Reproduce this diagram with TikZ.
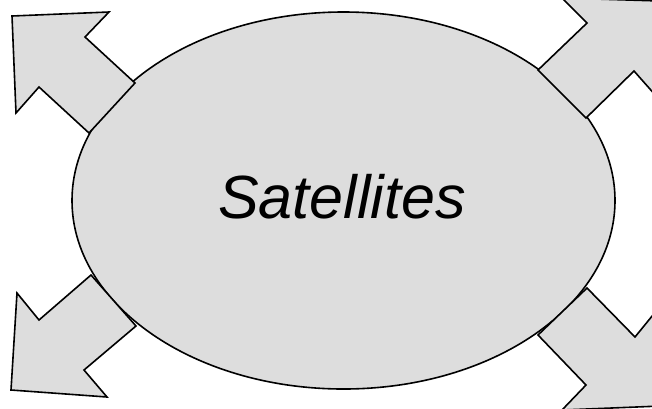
\documentclass[tikz,border=0pt]{standalone}
\usepackage{fontspec}
\setsansfont{Liberation Sans}
\usepackage{tikz}
\usetikzlibrary{
    shapes.geometric,
    positioning
}
\definecolor{bubblegray}{HTML}{DDDDDD}
\tikzstyle{bubble} = [
    ellipse,
    draw=black,
    fill=bubblegray,
    line width=1.6pt,
    inner sep=0pt,
    minimum width=543pt,
    minimum height=377pt
]
\tikzstyle{bigarrow} = [
    draw=black,
    fill=bubblegray,
    line width=1.6pt,
    line join=miter
]

\begin{document}
\begin{tikzpicture}[x=1pt, y=-1pt]
    \clip (0,0) rectangle (652,408);
    % Centre
    \node[bubble] (sat) at (343.5,200.5) {};
    \node[font=\sffamily\itshape\fontsize{61}{64}\selectfont, inner sep=0pt] (label) at (342,197) {Satellites};

    % Arrows out of the centre
    \draw[bigarrow] (135,83) -- (85,37) -- (109,12) -- (12,16) -- (16,113) -- (39,87) -- (89,133) -- cycle;
    \draw[bigarrow] (538,70) -- (587,23) -- (562,-2) -- (660,1) -- (657,97) -- (634,71) -- (586,118) -- cycle;
    \draw[bigarrow] (91,275) -- (39,320) -- (17,293) -- (11,390) -- (107,397) -- (84,370) -- (136,326) -- cycle;
    \draw[bigarrow] (587,288) -- (635,337) -- (657,310) -- (661,406) -- (562,410) -- (586,385) -- (538,335) -- cycle;
\end{tikzpicture}
\end{document}
